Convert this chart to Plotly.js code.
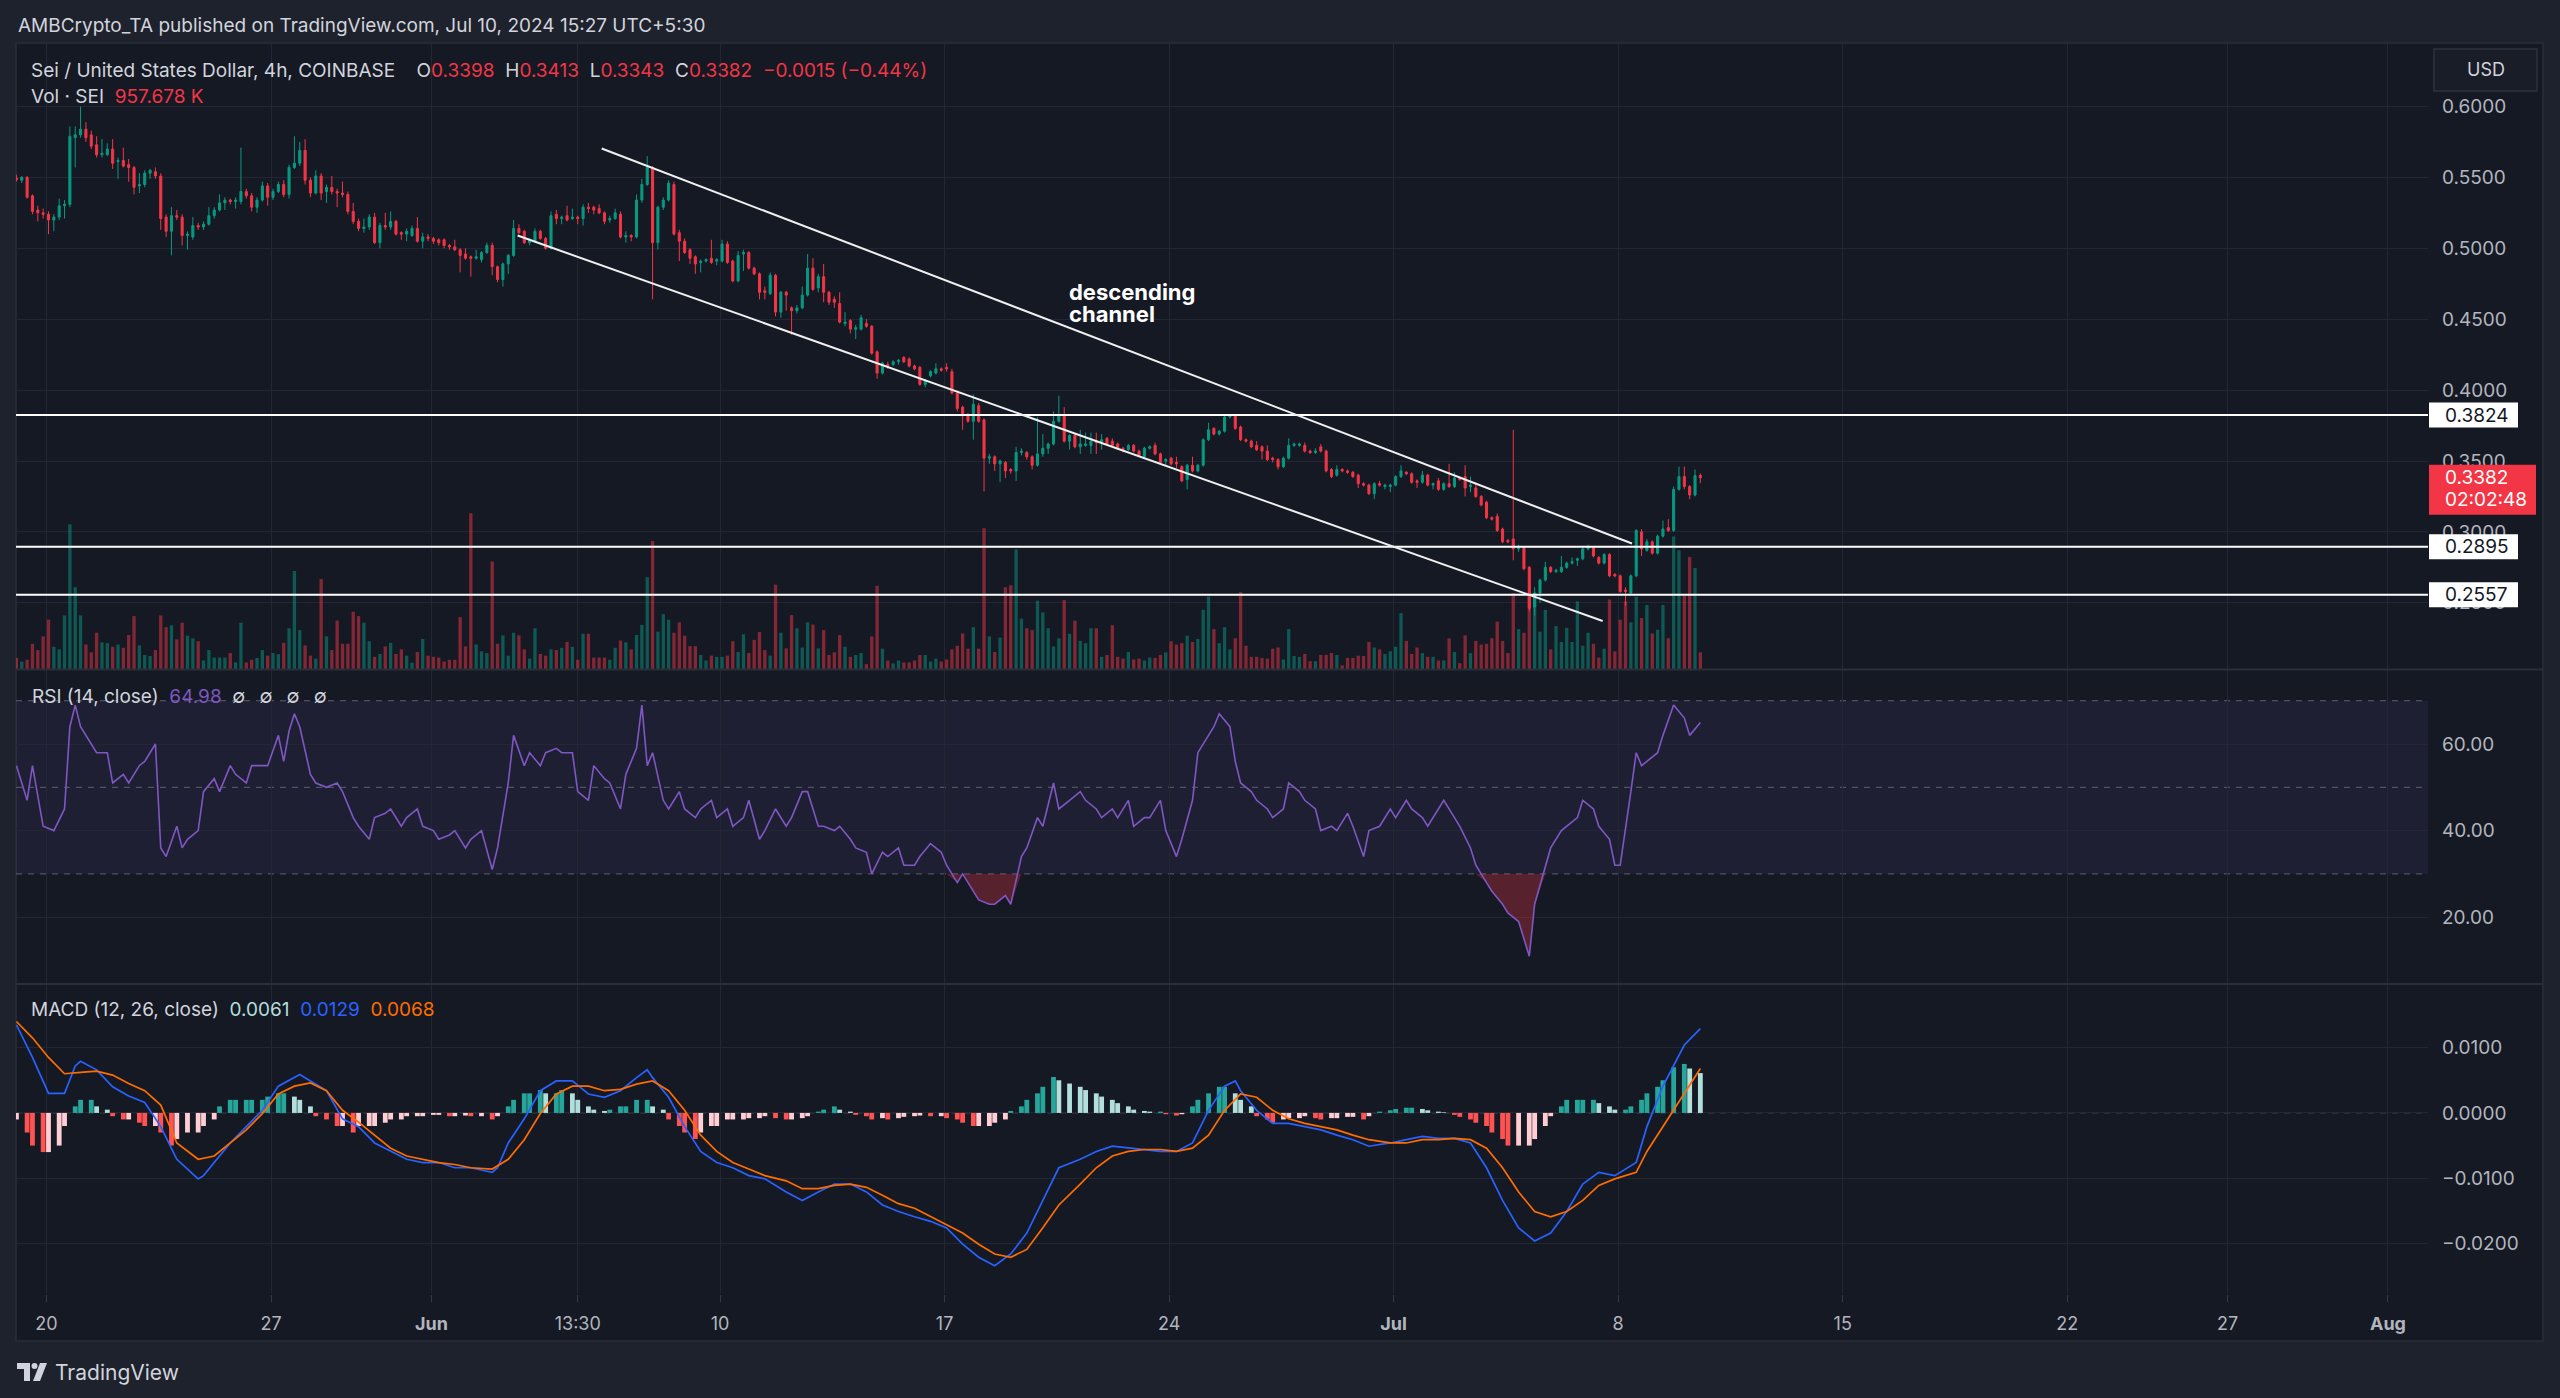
<!DOCTYPE html>
<html>
<head>
<meta charset="utf-8">
<title>SEIUSD 4h</title>
<script src="https://cdn.plot.ly/plotly-3.0.1.min.js"></script>
<style>
html,body{margin:0;padding:0;background:#1E222D;overflow:hidden;}
#chart{width:2560px;height:1398px;}
</style>
</head>
<body>
<div id="chart"></div>
<script>
// ===== DATA (SEI/USD, 4h candles, local time UTC+5:30) =====
const firstCandle = '2024-05-19T01:30:00Z';
const open = [
.5495,.548,.550,.537,.527,.525,.524,.520,.522,.530,
.531,.578,.580,.584,.580,.573,.566,.566,.570,.561,
.562,.559,.557,.544,.545,.553,.554,.551,.522,.512,
.523,.522,.509,.508,.516,.515,.517,.523,.527,.532,
.534,.533,.533,.540,.537,.529,.534,.544,.536,.540,
.545,.538,.557,.560,.569,.548,.539,.551,.540,.543,
.540,.539,.538,.526,.519,.514,.515,.522,.504,.516,
.515,.519,.511,.510,.509,.514,.505,.508,.507,.506,
.506,.502,.501,.499,.496,.494,.493,.492,.497,.502,
.487,.478,.489,.495,.514,.512,.504,.505,.512,.507,
.500,.524,.521,.523,.521,.522,.521,.529,.529,.528,
.525,.520,.521,.524,.508,.509,.508,.534,.545,.557,
.504,.529,.534,.545,.511,.505,.499,.494,.490,.491,
.493,.491,.491,.503,.491,.477,.496,.497,.486,.482,
.470,.468,.481,.455,.469,.458,.456,.458,.467,.486,
.472,.480,.469,.464,.461,.447,.449,.443,.443,.447,
.445,.427,.412,.418,.418,.420,.423,.422,.417,.416,
.404,.410,.412,.415,.416,.413,.398,.388,.382,.378,
.389,.379,.352,.353,.348,.349,.344,.343,.356,.356,
.353,.347,.355,.359,.362,.378,.382,.364,.368,.360,
.361,.361,.364,.363,.366,.364,.362,.359,.358,.361,
.357,.353,.359,.361,.355,.350,.352,.349,.346,.337,
.347,.343,.347,.365,.373,.369,.371,.381,.382,.374,
.365,.364,.361,.360,.357,.352,.351,.346,.352,.361,
.361,.361,.357,.356,.360,.357,.344,.340,.344,.343,
.342,.340,.334,.333,.327,.334,.332,.332,.333,.339,
.342,.341,.336,.335,.340,.333,.336,.330,.334,.332,
.338,.339,.332,.331,.325,.321,.310,.311,.302,.294,
.295,.288,.289,.275,.247,.257,.266,.275,.272,.272,
.275,.278,.280,.281,.288,.289,.282,.278,.284,.270,
.269,.259,.257,.269,.300,.287,.293,.285,.297,.303,
.301,.330,.339,.332,.326,.3398];
const high = [
.552,.551,.551,.538,.530,.528,.526,.524,.535,.534,
.586,.586,.600,.589,.583,.579,.577,.574,.577,.564,
.571,.563,.558,.553,.555,.556,.557,.553,.524,.529,
.527,.524,.512,.522,.518,.519,.529,.529,.538,.536,
.535,.536,.571,.542,.539,.536,.547,.546,.542,.547,
.548,.559,.579,.575,.577,.550,.555,.553,.545,.551,
.542,.547,.540,.532,.521,.521,.524,.525,.518,.525,
.526,.520,.512,.514,.516,.522,.511,.510,.508,.507,
.507,.503,.506,.500,.500,.495,.499,.498,.504,.504,
.488,.490,.496,.520,.517,.513,.507,.514,.513,.508,
.526,.527,.523,.530,.528,.523,.531,.532,.530,.531,
.526,.523,.528,.526,.512,.510,.538,.549,.565,.558,
.530,.536,.548,.547,.513,.507,.500,.495,.492,.493,
.506,.493,.506,.505,.492,.498,.499,.498,.487,.483,
.473,.483,.482,.470,.470,.459,.460,.473,.496,.493,
.482,.489,.470,.466,.469,.455,.450,.446,.453,.450,
.446,.428,.420,.420,.421,.422,.424,.423,.418,.417,
.408,.414,.419,.416,.419,.415,.399,.389,.384,.397,
.391,.380,.355,.354,.351,.350,.345,.360,.359,.357,
.354,.381,.369,.363,.385,.396,.388,.369,.369,.372,
.370,.370,.370,.369,.367,.366,.363,.360,.362,.362,
.358,.360,.361,.363,.356,.352,.353,.353,.347,.348,
.353,.348,.366,.377,.374,.372,.383,.383,.383,.375,
.366,.365,.364,.361,.361,.353,.352,.353,.366,.363,
.363,.363,.358,.359,.362,.358,.345,.347,.345,.344,
.343,.341,.335,.334,.335,.336,.334,.334,.340,.347,
.343,.342,.337,.343,.341,.335,.338,.335,.348,.342,
.339,.347,.339,.335,.326,.322,.311,.313,.303,.295,
.372,.291,.290,.276,.261,.267,.279,.276,.274,.283,
.279,.282,.282,.289,.291,.290,.283,.285,.285,.271,
.270,.261,.270,.302,.302,.295,.294,.298,.308,.309,
.332,.346,.346,.333,.344,.3413];
const low = [
.547,.546,.535,.524,.519,.521,.510,.512,.520,.521,
.529,.557,.578,.575,.570,.564,.564,.565,.556,.549,
.557,.547,.538,.539,.543,.549,.549,.513,.508,.495,
.520,.502,.499,.506,.513,.513,.516,.521,.526,.527,
.531,.528,.531,.535,.526,.525,.533,.530,.534,.539,
.536,.535,.556,.558,.545,.536,.538,.534,.532,.538,
.529,.536,.524,.517,.512,.511,.513,.503,.500,.513,
.513,.509,.506,.505,.508,.504,.500,.505,.503,.502,
.500,.499,.498,.483,.492,.480,.492,.490,.496,.481,
.476,.473,.482,.494,.510,.503,.502,.504,.506,.499,
.499,.517,.517,.519,.520,.517,.516,.525,.524,.524,
.517,.518,.520,.507,.504,.505,.507,.532,.544,.464,
.499,.527,.533,.509,.491,.496,.489,.482,.483,.490,
.489,.488,.490,.489,.476,.476,.484,.485,.481,.464,
.464,.467,.452,.451,.456,.439,.454,.457,.466,.470,
.469,.462,.460,.458,.447,.445,.440,.436,.442,.444,
.425,.408,.411,.415,.417,.418,.419,.416,.414,.403,
.402,.409,.411,.413,.413,.397,.385,.372,.377,.365,
.377,.3285,.348,.343,.335,.338,.341,.336,.354,.351,
.344,.346,.353,.355,.361,.377,.363,.358,.359,.355,
.360,.355,.355,.358,.361,.360,.358,.356,.357,.356,
.353,.352,.358,.354,.348,.347,.347,.345,.335,.330,
.342,.342,.346,.364,.368,.368,.370,.380,.372,.364,
.363,.359,.357,.351,.350,.349,.344,.345,.351,.360,
.360,.356,.355,.355,.356,.342,.338,.339,.342,.341,
.338,.331,.332,.326,.323,.332,.330,.328,.332,.338,
.340,.334,.331,.334,.332,.330,.329,.329,.331,.331,
.336,.325,.328,.324,.318,.309,.308,.300,.292,.292,
.280,.286,.273,.244,.241,.250,.265,.271,.271,.271,
.274,.277,.276,.280,.287,.282,.277,.277,.268,.268,
.257,.248,.256,.268,.283,.286,.284,.284,.296,.300,
.300,.329,.330,.323,.325,.3343];
const close = [
.5485,.550,.536,.526,.525,.524,.520,.522,.530,.531,
.579,.580,.584,.578,.572,.566,.567,.570,.560,.562,
.558,.557,.543,.545,.553,.555,.551,.521,.512,.523,
.522,.509,.510,.516,.515,.517,.523,.527,.532,.534,
.533,.534,.540,.537,.529,.534,.544,.536,.540,.545,
.538,.557,.560,.569,.548,.539,.551,.539,.543,.540,
.539,.538,.526,.519,.514,.515,.522,.504,.516,.515,
.519,.510,.510,.512,.514,.505,.508,.507,.505,.504,
.502,.501,.499,.495,.493,.493,.494,.497,.502,.487,
.478,.489,.495,.514,.511,.504,.506,.512,.507,.500,
.523,.521,.522,.520,.522,.521,.529,.528,.527,.525,
.519,.521,.525,.508,.509,.508,.534,.545,.557,.504,
.529,.534,.546,.510,.505,.497,.493,.489,.491,.492,
.490,.492,.503,.490,.477,.495,.497,.486,.482,.469,
.469,.481,.455,.469,.467,.456,.458,.467,.486,.471,
.480,.469,.462,.462,.448,.448,.443,.444,.451,.445,
.426,.412,.419,.417,.420,.421,.420,.417,.415,.404,
.407,.413,.415,.414,.415,.398,.387,.382,.378,.390,
.378,.352,.353,.348,.350,.343,.343,.356,.357,.353,
.347,.355,.359,.362,.378,.382,.364,.368,.360,.362,
.362,.364,.363,.365,.362,.361,.359,.358,.361,.357,
.354,.359,.360,.355,.349,.351,.348,.348,.336,.347,
.343,.347,.365,.372,.369,.371,.381,.382,.373,.365,
.364,.360,.358,.357,.351,.351,.346,.352,.361,.362,
.362,.357,.356,.357,.357,.343,.339,.344,.343,.342,
.339,.334,.333,.327,.334,.333,.333,.333,.339,.343,
.341,.335,.335,.340,.333,.334,.330,.334,.332,.338,
.337,.331,.333,.325,.319,.310,.309,.301,.293,.293,
.288,.289,.274,.246,.257,.266,.275,.272,.273,.275,
.278,.279,.281,.288,.289,.283,.278,.284,.269,.269,
.258,.258,.269,.301,.288,.293,.285,.297,.302,.301,
.330,.339,.332,.326,.3397,.3382];
// volume in millions of SEI
const volume = [
.64,.43,.53,1.45,1.09,1.88,2.84,1.28,1.13,3.09,
8.34,4.71,3.09,1.41,.96,2.09,1.54,1.49,1.28,1.41,
1.22,1.96,3.05,1.36,.81,.75,1.09,3.09,2.41,2.52,
1.71,2.67,1.92,1.77,1.60,.49,1.09,.66,.66,.66,
.92,.38,2.67,.38,.53,.64,1.09,.77,.92,.85,
1.51,2.35,5.65,2.24,1.36,.77,.60,5.18,1.88,1.09,
2.79,1.45,1.45,3.30,3.05,2.67,1.60,.70,.87,1.30,
1.51,.87,1.13,.77,.36,.98,1.73,.77,.70,.66,
.43,.53,.53,2.99,1.30,8.98,1.41,1.02,.92,6.20,
1.45,1.94,.77,2.09,1.94,1.13,.60,2.35,.87,.77,
1.13,1.09,1.22,1.56,1.28,.53,2.03,2.03,.66,.66,
.66,.53,1.22,1.64,1.54,1.13,1.96,2.54,5.29,7.38,
2.15,3.16,2.84,2.09,2.69,1.92,1.32,1.32,.81,.49,
.77,.70,.70,.77,1.60,.98,2.00,.92,1.68,2.13,
1.09,.77,4.86,2.09,1.19,3.11,2.35,1.24,2.69,2.56,
1.19,2.24,.81,.96,1.96,1.28,.70,.81,.92,.28,
1.88,4.80,1.17,.49,.32,.49,.38,.38,.49,.81,
.81,.43,.60,.43,.55,1.13,1.34,2.05,1.17,2.41,
1.17,8.12,1.88,.98,1.81,4.71,4.82,6.89,2.90,2.35,
2.24,3.94,3.26,2.35,1.30,1.77,3.97,2.03,2.79,1.62,
1.49,2.35,2.35,.70,.81,2.52,.70,.60,.98,.55,
.60,.49,.66,.64,.81,.96,1.60,1.41,1.49,1.92,
1.56,1.73,3.41,4.18,2.30,1.49,2.41,1.13,1.77,4.43,
1.34,.70,.70,.64,.60,1.17,1.24,.55,2.30,.75,
.70,.87,.45,.45,.81,.81,.92,.81,.21,.64,
.64,.77,.75,1.56,1.24,1.13,.87,1.02,1.28,3.22,
1.62,.87,1.24,.92,.70,.70,.49,.49,1.77,.98,
.34,1.94,.92,1.62,1.41,1.45,1.77,2.73,1.62,.92,
4.37,2.30,2.09,4.16,4.33,2.15,3.41,1.13,2.47,1.56,
2.37,1.56,3.90,1.34,2.09,1.45,.66,1.17,4.01,1.02,
2.84,3.90,2.69,4.16,2.94,3.69,2.05,2.26,3.69,1.77,
7.63,6.84,4.22,6.46,5.82,.957678];

// indicator readings: [candle index, value]
const rsiPoints = [[0,55],[2,47],[3,55],[5,41],[7,40],[9,45],[10,64],[11,69],[12,64],[14,60],[15,58],[17,58],[18,51],[20,53],[21,51],[23,55],[24,56],[26,60],[27,36],[28,34],[30,41],[31,36],[32,38],[34,40],[35,49],[37,52],[38,49],[40,55],[41,53],[43,51],[44,55],[46,55],[47,55],[49,62],[50,56],[51,63],[52,67],[53,64],[55,53],[56,51],[58,50],[60,51],[61,49],[63,43],[64,41],[66,38],[67,43],[69,44],[70,45],[72,41],[73,43],[75,45],[76,41],[78,40],[79,38],[81,39],[82,40],[84,36],[85,38],[87,40],[89,31],[90,36],[92,51],[93,62],[95,55],[96,58],[98,55],[99,58],[101,59],[102,58],[104,58],[105,49],[107,47],[108,55],[110,52],[111,51],[113,45],[114,53],[116,59],[117,69],[118,55],[119,58],[121,47],[122,45],[124,49],[125,45],[127,43],[128,45],[130,47],[131,43],[133,45],[134,41],[136,43],[137,47],[139,38],[140,40],[142,45],[144,41],[145,43],[147,49],[148,49],[150,41],[151,41],[153,40],[154,41],[156,38],[157,36],[159,35],[160,30],[162,35],[163,34],[165,36],[166,32],[168,32],[169,34],[171,37],[173,35],[174,32],[176,28],[177,30],[179,26],[180,24],[182,23],[183,23],[185,25],[186,23],[188,34],[189,36],[191,43],[192,41],[194,51],[195,45],[197,47],[199,49],[200,47],[202,45],[203,43],[205,45],[206,43],[208,47],[209,41],[211,43],[212,43],[214,47],[215,40],[217,34],[218,38],[220,47],[221,58],[223,62],[224,64],[225,67],[227,64],[228,56],[229,51],[231,49],[232,47],[234,45],[235,43],[237,45],[238,51],[240,49],[241,47],[243,45],[244,40],[246,41],[247,40],[249,44],[250,41],[252,34],[253,40],[255,41],[257,45],[258,43],[260,47],[261,45],[263,43],[264,41],[266,45],[267,47],[269,43],[270,41],[272,36],[273,32],[275,28],[276,26],[278,23],[279,21],[281,19],[283,11],[284,23],[286,32],[287,36],[289,40],[290,41],[292,43],[293,47],[295,45],[296,41],[298,38],[299,32],[300,32],[302,49],[303,58],[304,55],[305,56],[307,58],[308,62],[310,69],[312,66],[313,62],[315,64.98]];
const macdPoints = [[0,.0135],[3,.0085],[6,.0030],[9,.0030],[11,.0072],[12,.0079],[15,.0066],[18,.0040],[21,.0026],[24,.0016],[27,-.0021],[30,-.0071],[34,-.0101],[35,-.0096],[37,-.0076],[40,-.0046],[43,-.0021],[46,.0004],[49,.0041],[52,.0054],[53,.0059],[55,.0049],[58,.0034],[61,-.0009],[64,-.0021],[67,-.0046],[70,-.0059],[73,-.0071],[76,-.0076],[79,-.0076],[82,-.0084],[85,-.0084],[89,-.0091],[90,-.0084],[92,-.0046],[95,-.0009],[98,.0034],[101,.0049],[104,.0049],[107,.0029],[110,.0024],[113,.0034],[116,.0054],[118,.0066],[119,.0054],[122,.0024],[125,-.0021],[128,-.0059],[131,-.0076],[134,-.0084],[137,-.0096],[140,-.0101],[144,-.0121],[147,-.0134],[150,-.0121],[153,-.0109],[156,-.0109],[159,-.0121],[162,-.0141],[165,-.0151],[168,-.0159],[171,-.0166],[174,-.0176],[177,-.0201],[180,-.0221],[183,-.0234],[186,-.0216],[189,-.0184],[192,-.0134],[195,-.0084],[199,-.0071],[202,-.0059],[205,-.0051],[208,-.0054],[211,-.0056],[214,-.0059],[217,-.0059],[220,-.0046],[223,.0004],[226,.0041],[228,.0049],[229,.0034],[232,.0004],[235,-.0016],[238,-.0016],[241,-.0021],[244,-.0026],[247,-.0034],[250,-.0041],[253,-.0051],[257,-.0046],[260,-.0041],[263,-.0036],[266,-.0039],[269,-.0039],[272,-.0046],[275,-.0084],[278,-.0134],[281,-.0176],[284,-.0196],[287,-.0184],[290,-.0151],[293,-.0109],[296,-.0091],[299,-.0096],[303,-.0076],[305,-.0021],[308,.0041],[312,.0104],[315,.0129]];
const signalPoints = [[0,.0140],[3,.0115],[6,.0085],[9,.0060],[12,.0062],[15,.0064],[18,.0058],[21,.0045],[24,.0034],[27,.0012],[30,-.0046],[34,-.0071],[37,-.0066],[40,-.0046],[43,-.0026],[46,-.0001],[49,.0029],[52,.0041],[55,.0046],[58,.0034],[61,.0004],[64,-.0014],[67,-.0034],[70,-.0054],[73,-.0066],[76,-.0071],[79,-.0076],[82,-.0079],[85,-.0084],[89,-.0086],[92,-.0071],[95,-.0041],[98,-.0001],[101,.0029],[104,.0041],[107,.0041],[110,.0034],[113,.0036],[116,.0044],[119,.0049],[122,.0034],[125,.0004],[128,-.0034],[131,-.0059],[134,-.0076],[137,-.0086],[140,-.0096],[144,-.0104],[147,-.0116],[150,-.0116],[153,-.0111],[156,-.0109],[159,-.0114],[162,-.0126],[165,-.0139],[168,-.0146],[171,-.0159],[174,-.0171],[177,-.0184],[180,-.0201],[183,-.0216],[186,-.0221],[189,-.0209],[192,-.0176],[195,-.0141],[199,-.0109],[202,-.0084],[205,-.0066],[208,-.0059],[211,-.0056],[214,-.0056],[217,-.0059],[220,-.0054],[223,-.0034],[226,.0004],[229,.0029],[232,.0024],[235,.0004],[238,-.0009],[241,-.0016],[244,-.0021],[247,-.0026],[250,-.0034],[253,-.0041],[257,-.0046],[260,-.0046],[263,-.0041],[266,-.0041],[269,-.0039],[272,-.0041],[275,-.0054],[278,-.0084],[281,-.0121],[284,-.0151],[287,-.0159],[290,-.0151],[293,-.0134],[296,-.0111],[299,-.0101],[303,-.0091],[305,-.0059],[308,-.0021],[312,.0029],[315,.0068]];
const histPoints = [[0,-.001],[2,-.003],[3,-.005],[5,-.006],[6,-.006],[8,-.005],[9,-.002],[11,.001],[12,.002],[14,.002],[15,.001],[17,.0005],[18,-.0005],[20,-.001],[21,-.001],[23,-.0015],[24,-.002],[26,-.002],[27,-.003],[29,-.005],[30,-.004],[32,-.003],[34,-.003],[35,-.002],[37,-.001],[38,.001],[40,.002],[41,.002],[43,.002],[44,.002],[46,.002],[47,.0025],[49,.003],[50,.003],[52,.0025],[53,.002],[55,.001],[56,-.0005],[58,-.001],[60,-.002],[61,-.002],[63,-.003],[64,-.002],[66,-.002],[67,-.002],[69,-.0015],[70,-.001],[72,-.001],[73,-.0005],[75,-.0005],[76,-.0005],[78,-.0003],[79,-.0003],[81,-.0005],[82,-.0005],[84,-.0004],[85,-.0005],[87,-.0005],[89,-.001],[90,-.0005],[92,.001],[93,.002],[95,.003],[96,.003],[98,.0035],[99,.003],[101,.003],[102,.0035],[104,.003],[105,.002],[107,.001],[108,.0005],[110,.0003],[111,.0005],[113,.001],[114,.001],[116,.002],[118,.002],[119,.001],[121,.0005],[122,-.001],[124,-.002],[125,-.003],[127,-.004],[128,-.003],[130,-.002],[131,-.002],[133,-.001],[134,-.001],[136,-.001],[137,-.0008],[139,-.0008],[140,-.0005],[142,-.0008],[144,-.001],[145,-.001],[147,-.0008],[148,-.0005],[150,.0002],[151,.0005],[153,.001],[154,.0005],[156,.0002],[157,-.0003],[159,-.0005],[160,-.001],[162,-.0008],[163,-.001],[165,-.0008],[166,-.0006],[168,-.0005],[169,-.0004],[171,-.0005],[173,-.0005],[174,-.0008],[176,-.001],[177,-.0015],[179,-.002],[180,-.002],[182,-.002],[183,-.0015],[185,-.001],[186,.0003],[188,.001],[189,.002],[191,.003],[192,.004],[194,.0055],[195,.005],[197,.0045],[199,.004],[200,.0035],[202,.003],[203,.0025],[205,.002],[206,.0015],[208,.001],[209,.0005],[211,.0003],[212,.0002],[214,.0002],[215,-.0002],[217,-.0004],[218,-.0002],[220,.001],[221,.002],[223,.003],[225,.004],[226,.004],[228,.003],[229,.002],[231,.001],[232,-.0005],[234,-.001],[235,-.0015],[237,-.001],[238,-.0008],[240,-.0008],[241,-.0005],[243,-.0008],[244,-.001],[246,-.0008],[247,-.0008],[249,-.0006],[250,-.0006],[252,-.001],[253,-.0005],[255,.0002],[257,.0004],[258,.0006],[260,.0008],[261,.0008],[263,.0006],[264,.0004],[266,.0002],[267,.0001],[269,-.0003],[270,-.0006],[272,-.001],[273,-.0015],[275,-.002],[276,-.003],[278,-.004],[279,-.005],[281,-.005],[283,-.005],[284,-.004],[286,-.002],[287,-.0005],[289,.001],[290,.002],[292,.002],[293,.002],[295,.002],[296,.0015],[298,.001],[299,.0005],[301,.0005],[302,.001],[304,.002],[305,.003],[307,.004],[308,.005],[310,.007],[312,.0075],[313,.0068],[315,.0061]];

const levels = [0.3824, 0.2895, 0.2557];
const channelUpper = {t:['2024-06-06 07:25','2024-07-08 10:21'], p:[0.5704,0.2918]};
const channelLower = {t:['2024-06-03 16:30','2024-07-07 12:26'], p:[0.5090,0.2372]};
const tickDates = ['2024-05-20','2024-05-27','2024-06-01','2024-06-05 13:30','2024-06-10','2024-06-17','2024-06-24','2024-07-01','2024-07-08','2024-07-15','2024-07-22','2024-07-27','2024-08-01'];
const tickLabels = ['20','27','<b>Jun</b>','13:30','10','17','24','<b>Jul</b>','8','15','22','27','<b>Aug</b>'];
const priceTicks = [0.25,0.30,0.35,0.40,0.45,0.50,0.55,0.60];
const rsiTicks = [20,40,60];
const macdTicks = [-0.02,-0.01,0,0.01];
const countdown = '02:02:48';

// ===== GEOMETRY =====
const W = 2560, H = 1398;
const PL = 16, PR = 2428, PT = 43, PB = 1294;
const xp = px => (px - PL) / (PR - PL);
const yp = py => (PB - py) / (PB - PT);
const MAIN_BOT = 669, RSI_TOP = 670, RSI_BOT = 983, MACD_TOP = 985;
const P_RANGE = [0.20332, 0.64478];
const priceToPy = p => PT + (P_RANGE[1] - p) / (P_RANGE[1] - P_RANGE[0]) * (MAIN_BOT - PT);
const X_RANGE = ['2024-05-19 01:11', '2024-08-02 05:57'];

const t0 = Date.parse(firstCandle);
const times = open.map((_, i) => new Date(t0 + i * 4 * 3600e3).toISOString().replace('T', ' ').slice(0, 16));
const tx = pts => pts.map(p => times[p[0]]);
const vy = pts => pts.map(p => p[1]);

const GREEN = '#089981', RED = '#F23645';
const GRID = '#232733';
const TXT = '#B2B5BE';
const FONT = 'Inter, "Noto Sans", "DejaVu Sans", sans-serif';

const volColors = close.map((c, i) => c >= open[i] ? 'rgba(8,153,129,0.5)' : 'rgba(242,54,69,0.5)');
const histColors = histPoints.map((p, i) => {
  const prev = i > 0 ? histPoints[i-1][1] : p[1];
  if (p[1] >= 0) return p[1] >= prev ? '#26A69A' : '#B2DFDB';
  return p[1] >= prev ? '#FFCDD2' : '#FF5252';
});

const traces = [
  { type:'bar', x:times, y:volume, xaxis:'x', yaxis:'y', marker:{color:volColors, line:{width:0}}, width:4*3600e3*0.62, hoverinfo:'skip' },
  { type:'candlestick', x:times, open:open, high:high, low:low, close:close, xaxis:'x', yaxis:'y2',
    increasing:{line:{color:GREEN, width:1}, fillcolor:GREEN},
    decreasing:{line:{color:RED, width:1}, fillcolor:RED},
    whiskerwidth:0, hoverinfo:'skip' },
  { type:'scatter', mode:'lines', x:tx(rsiPoints), y:rsiPoints.map(() => 30), xaxis:'x', yaxis:'y3', line:{width:0, color:'rgba(0,0,0,0)'}, hoverinfo:'skip' },
  { type:'scatter', mode:'lines', x:tx(rsiPoints), y:rsiPoints.map(p => Math.min(p[1], 30)), xaxis:'x', yaxis:'y3', line:{width:0, color:'rgba(0,0,0,0)'}, fill:'tonexty', fillcolor:'rgba(242,54,69,0.30)', hoverinfo:'skip' },
  { type:'scatter', mode:'lines', x:tx(rsiPoints), y:vy(rsiPoints), xaxis:'x', yaxis:'y3', line:{color:'#7E57C2', width:1.6}, hoverinfo:'skip' },
  { type:'bar', x:tx(histPoints), y:vy(histPoints), xaxis:'x', yaxis:'y4', marker:{color:histColors, line:{width:0}}, width:4*3600e3*0.9, hoverinfo:'skip' },
  { type:'scatter', mode:'lines', x:tx(macdPoints), y:vy(macdPoints), xaxis:'x', yaxis:'y4', line:{color:'#2962FF', width:1.7}, hoverinfo:'skip' },
  { type:'scatter', mode:'lines', x:tx(signalPoints), y:vy(signalPoints), xaxis:'x', yaxis:'y4', line:{color:'#FF6D00', width:1.7}, hoverinfo:'skip' }
];

const shapes = [];
shapes.push({type:'rect', xref:'paper', yref:'paper', x0:xp(16), x1:xp(2543), y0:yp(1341), y1:yp(43), fillcolor:'#151924', line:{color:'#2A2E39', width:1.5}, layer:'below'});
[669.5, 984].forEach(py => shapes.push({type:'line', xref:'paper', yref:'paper', x0:xp(16), x1:xp(2543), y0:yp(py), y1:yp(py), line:{color:'#2A2E39', width:2}, layer:'above'}));
shapes.push({type:'rect', xref:'x', yref:'y3', x0:X_RANGE[0], x1:X_RANGE[1], y0:30, y1:70, fillcolor:'rgba(126,87,194,0.10)', line:{width:0}, layer:'below'});
[70,50,30].forEach(v => shapes.push({type:'line', xref:'x', yref:'y3', x0:X_RANGE[0], x1:X_RANGE[1], y0:v, y1:v, line:{color:'#5D606B', width:1, dash:'6px,6px'}, layer:'below'}));
shapes.push({type:'line', xref:'x', yref:'y4', x0:X_RANGE[0], x1:X_RANGE[1], y0:0, y1:0, line:{color:'#4A4D58', width:1, dash:'6px,6px'}, layer:'below'});
levels.forEach(v => shapes.push({type:'line', xref:'x', yref:'y2', x0:X_RANGE[0], x1:X_RANGE[1], y0:v, y1:v, line:{color:'#FFFFFF', width:2}, layer:'above'}));
[channelUpper, channelLower].forEach(c => shapes.push({type:'line', xref:'x', yref:'y2', x0:c.t[0], x1:c.t[1], y0:c.p[0], y1:c.p[1], line:{color:'#F0F0F0', width:2}, layer:'above'}));

const annotations = [];
const ann = (o) => annotations.push(Object.assign({showarrow:false, xref:'paper', yref:'paper', xanchor:'left', yanchor:'middle', align:'left', font:{family:FONT, size:19, color:'#D1D4DC'}}, o));

levels.forEach(v => {
  const py = priceToPy(v);
  shapes.push({type:'rect', xref:'paper', yref:'paper', x0:xp(2429), x1:xp(2518), y0:yp(py+12.5), y1:yp(py-12.5), fillcolor:'#FFFFFF', line:{width:0}, layer:'above'});
  ann({x:xp(2443), y:yp(py), text:v.toFixed(4), font:{family:FONT, size:19, color:'#131722'}});
});
{
  const last = close[close.length-1];
  const py = priceToPy(last);
  shapes.push({type:'rect', xref:'paper', yref:'paper', x0:xp(2429), x1:xp(2536), y0:yp(py+37), y1:yp(py-13), fillcolor:RED, line:{width:0}, layer:'above'});
  ann({x:xp(2443), y:yp(py), text:last.toFixed(4), font:{family:FONT, size:19, color:'#FFFFFF'}});
  ann({x:xp(2443), y:yp(py+22), text:countdown, font:{family:FONT, size:19, color:'#FFFFFF'}});
}
shapes.push({type:'rect', xref:'paper', yref:'paper', x0:xp(2434), x1:xp(2537), y0:yp(91), y1:yp(49), fillcolor:'#191D28', line:{color:'#2E323E', width:1.5}, layer:'above'});
ann({x:xp(2486), y:yp(70), xanchor:'center', text:'USD', font:{family:FONT, size:18, color:'#D1D4DC'}});

const n = close.length;
const chg = close[n-1] - close[n-2];
const pct = chg / close[n-2] * 100;
const sp = '\u00A0\u00A0';
const sp4 = '\u00A0\u00A0\u00A0\u00A0';
const spNull = '\u00A0\u00A0\u2009';
const red = s => `<span style="color:${RED}">${s}</span>`;
const sgn = v => v < 0 ? '\u2212' : '+';
const rsiLast = rsiPoints[rsiPoints.length-1][1];
const histLast = histPoints[histPoints.length-1][1];
const macdLast = macdPoints[macdPoints.length-1][1];
const sigLast = signalPoints[signalPoints.length-1][1];
ann({x:xp(16), y:yp(25), text:'AMBCrypto_TA published on TradingView.com, Jul 10, 2024 15:27 UTC+5:30', font:{family:FONT, size:19, color:'#D1D4DC'}});
ann({x:xp(29), y:yp(70.7), text:'Sei / United States Dollar, 4h, COINBASE' + sp4 +
  'O' + red(open[n-1].toFixed(4)) + sp + 'H' + red(high[n-1].toFixed(4)) + sp + 'L' + red(low[n-1].toFixed(4)) + sp +
  'C' + red(close[n-1].toFixed(4)) + sp + red(sgn(chg) + Math.abs(chg).toFixed(4) + ' (' + sgn(pct) + Math.abs(pct).toFixed(2) + '%)')});
ann({x:xp(29), y:yp(96.7), text:'Vol \u00B7 SEI' + sp + red((volume[n-1]*1000).toFixed(3) + ' K')});
ann({x:xp(30), y:yp(696), text:'RSI (14, close)' + sp + `<span style="color:#7E57C2">${rsiLast.toFixed(2)}</span>` + sp + '\u2205' + spNull + '\u2205' + spNull + '\u2205' + spNull + '\u2205'});
ann({x:xp(29), y:yp(1010), text:'MACD (12, 26, close)' + sp + `<span style="color:#B2DFDB">${histLast.toFixed(4)}</span>` + sp +
  `<span style="color:#2962FF">${macdLast.toFixed(4)}</span>` + sp + `<span style="color:#FF6D00">${sigLast.toFixed(4)}</span>`});
ann({xref:'x', yref:'y2', x:'2024-06-20 19:20', y:0.4692, text:'<b>descending</b>', font:{family:FONT, size:22, color:'#FFFFFF'}});
ann({xref:'x', yref:'y2', x:'2024-06-20 19:20', y:0.4535, text:'<b>channel</b>', font:{family:FONT, size:22, color:'#FFFFFF'}});
const P = (x, y) => `${xp(x)},${yp(y)}`;
shapes.push({type:'path', xref:'paper', yref:'paper', path:`M${P(17,1363)} L${P(30,1363)} L${P(30,1381)} L${P(24,1381)} L${P(24,1369)} L${P(17,1369)} Z`, fillcolor:'#D1D4DC', line:{width:0}, layer:'above'});
shapes.push({type:'circle', xref:'paper', yref:'paper', x0:xp(31.5), x1:xp(37.5), y0:yp(1369), y1:yp(1363), fillcolor:'#D1D4DC', line:{width:0}, layer:'above'});
shapes.push({type:'path', xref:'paper', yref:'paper', path:`M${P(33,1381)} L${P(40,1363)} L${P(47,1363)} L${P(40,1381)} Z`, fillcolor:'#D1D4DC', line:{width:0}, layer:'above'});
ann({x:xp(53), y:yp(1372), text:'TradingView', font:{family:FONT, size:21, color:'#D1D4DC'}});

const axisFont = {family:FONT, size:19, color:TXT};
const yCommon = {side:'right', anchor:'x', showgrid:true, gridcolor:GRID, gridwidth:1, zeroline:false, showline:false, ticks:'', ticklabelstandoff:13, tickfont:axisFont, fixedrange:true};

const layout = {
  width:W, height:H,
  paper_bgcolor:'#1E222D', plot_bgcolor:'rgba(0,0,0,0)',
  margin:{l:PL, r:W-PR, t:PT, b:H-PB, pad:0},
  showlegend:false, hovermode:false, dragmode:false,
  boxgap:0.45, barmode:'overlay',
  font:{family:FONT, color:TXT, size:18},
  xaxis:{type:'date', range:X_RANGE, anchor:'y4', tickmode:'array', tickvals:tickDates, ticktext:tickLabels,
    showgrid:true, gridcolor:GRID, gridwidth:1, zeroline:false, showline:false,
    ticks:'outside', ticklen:7, tickcolor:'#363A45', tickfont:{family:FONT, size:18, color:TXT}, ticklabelstandoff:6,
    rangeslider:{visible:false}, fixedrange:true},
  yaxis:{domain:[yp(MAIN_BOT), 1], range:[0, (MAIN_BOT-PT)/17.35], visible:false, showgrid:false, zeroline:false, fixedrange:true},
  yaxis2:Object.assign({}, yCommon, {overlaying:'y', range:P_RANGE, tickmode:'array', tickvals:priceTicks, ticktext:priceTicks.map(v => v.toFixed(4))}),
  yaxis3:Object.assign({}, yCommon, {domain:[yp(RSI_BOT), yp(RSI_TOP)], range:[4.8, 77.1], tickmode:'array', tickvals:rsiTicks, ticktext:rsiTicks.map(v => v.toFixed(2))}),
  yaxis4:Object.assign({}, yCommon, {domain:[0, yp(MACD_TOP)], range:[-0.02773, 0.01959], tickmode:'array', tickvals:macdTicks, ticktext:macdTicks.map(v => (v<0?'\u2212':'') + Math.abs(v).toFixed(4))}),
  shapes:shapes,
  annotations:annotations
};

Plotly.newPlot('chart', traces, layout, {staticPlot:true, displayModeBar:false});
</script>
</body>
</html>
